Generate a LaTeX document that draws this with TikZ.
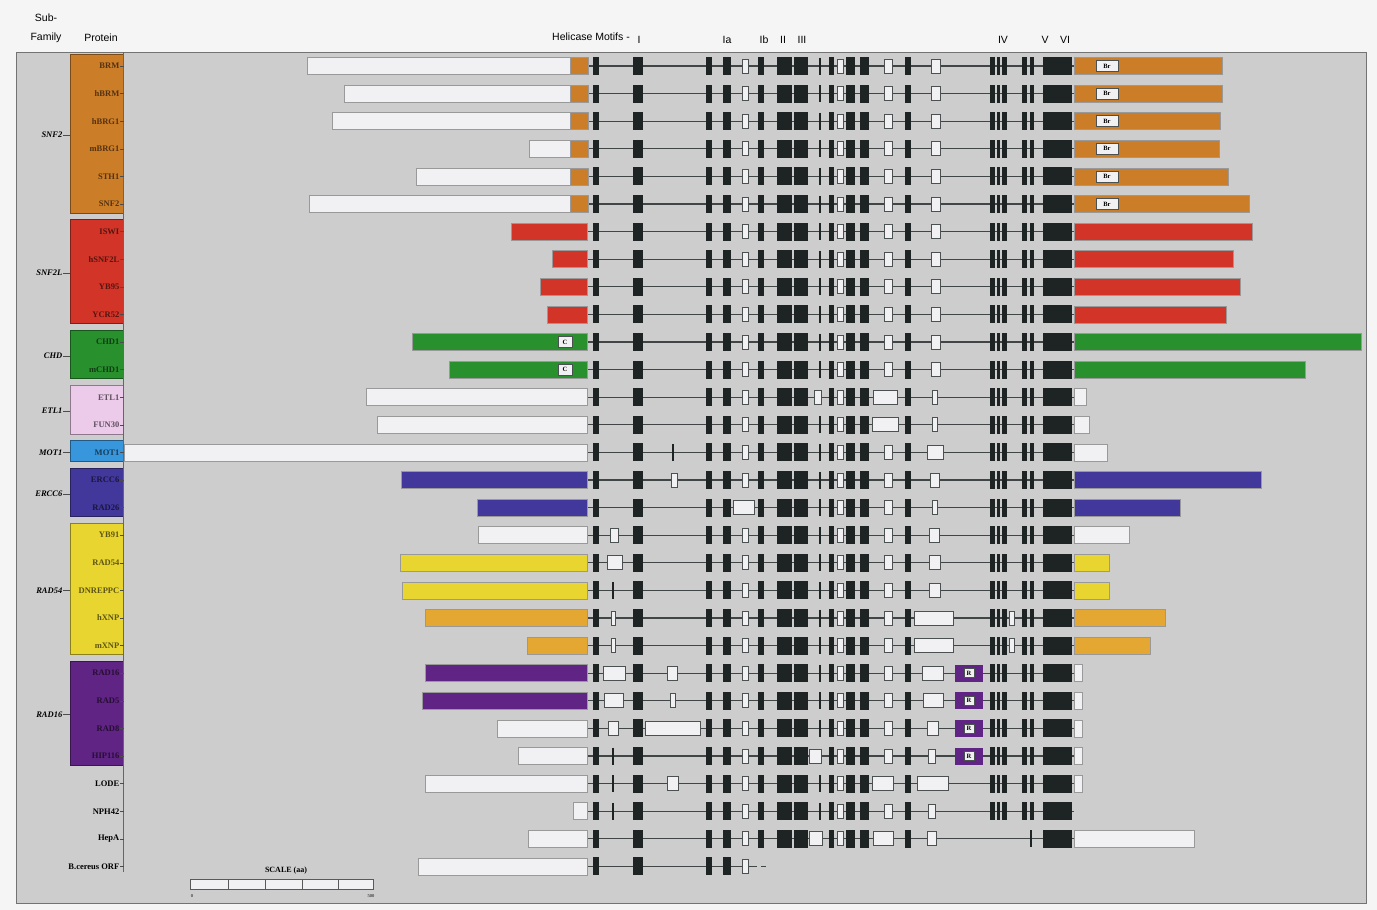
\documentclass[tikz,border=0pt]{standalone}
\usepackage{fontspec}
\setmainfont{Liberation Serif}
\setsansfont{Liberation Sans}
\definecolor{SnfOrange}{RGB}{204,125,40}
\definecolor{SnfRed}{RGB}{210,52,40}
\definecolor{ChdGreen}{RGB}{40,145,45}
\definecolor{EtlPink}{RGB}{236,202,234}
\definecolor{MotBlue}{RGB}{55,150,220}
\definecolor{ErcIndigo}{RGB}{66,56,156}
\definecolor{RadYellow}{RGB}{233,213,48}
\definecolor{RadGold}{RGB}{228,168,50}
\definecolor{RadPurple}{RGB}{96,36,132}
\definecolor{PanelGray}{RGB}{205,205,205}
\definecolor{MotifBlack}{RGB}{30,36,36}
\definecolor{BoxWhite}{RGB}{241,241,243}
\def\rtop{66}
\def\rh{27.6}

\begin{document}
\begin{tikzpicture}[x=1pt, y=-1pt,
    kbox/.style={fill=MotifBlack},
    wbox/.style={fill=BoxWhite, draw=MotifBlack!80, line width=0.8pt},
    nbar/.style={draw=black!40, line width=0.5pt},
    chain/.style={draw=MotifBlack!85, line width=1.3pt},
    ktick/.style={draw=MotifBlack, line width=1.6pt},
    plabel/.style={font=\bfseries\fontsize{8.5}{9}\selectfont, anchor=east, inner sep=0.5pt},
    flabel/.style={font=\bfseries\itshape\fontsize{8.5}{9}\selectfont, anchor=east, inner sep=0.5pt},
    hdr/.style={font=\sffamily\fontsize{10.5}{19}\selectfont, inner sep=0pt},
    tag/.style={fill=BoxWhite, draw=MotifBlack!80, line width=0.6pt, inner sep=0pt,
        font=\bfseries\fontsize{6.5}{7}\selectfont, minimum height=11pt}]

\useasboundingbox (0,0) rectangle (1377,910);
\fill[white!96!black] (0,0) rectangle (1377,910);
\filldraw[fill=PanelGray, draw=black!55, line width=1pt] (16,52) rectangle (1366,903);

% cabecera
\node[hdr, align=center] (subfam) at (46,28) {Sub-\\Family};
\node[hdr] (prothdr) at (101,38) {Protein};
\node[hdr, anchor=east] (helhdr) at (630,37) {Helicase Motifs -};
\foreach \x/\m in {639/I, 727/Ia, 764/Ib, 783/II, 802/III, 1003/IV, 1045/V, 1065/VI}
    \node[hdr] (m\m) at (\x,40) {\m};

% columna de proteinas: desde/hasta/color
\foreach \a/\b/\c in {0/5/SnfOrange, 6/9/SnfRed, 10/11/ChdGreen, 12/13/EtlPink,
    14/14/MotBlue, 15/16/ErcIndigo, 17/21/RadYellow, 22/25/RadPurple}{
    \filldraw[fill=\c, draw=\c!60!black, line width=0.6pt]
        (70,{\rtop+\rh*\a-12}) rectangle (123,{\rtop+\rh*\b+9});
}
\draw[black!60, line width=1pt] (123.5,52) -- (123.5,872);

% subfamilias: nombre/texto/fila central
\foreach \g/\n/\m in {snf/SNF2/2.5, snfl/SNF2L/7.5, chd/CHD/10.5, etl/ETL1/12.5,
    mot/MOT1/14, erc/ERCC6/15.5, rsf/RAD54/19, rsx/RAD16/23.5}{
    \node[flabel] (f\g) at (63,{\rtop+\rh*\m}) {\n};
    \draw[black!70, line width=0.6pt] (f\g.east) -- (70,{\rtop+\rh*\m});
}

% proteinas: fila/nombre/color
\foreach \r/\n/\c in {0/BRM/SnfOrange, 1/hBRM/SnfOrange, 2/hBRG1/SnfOrange,
    3/mBRG1/SnfOrange, 4/STH1/SnfOrange, 5/SNF2/SnfOrange,
    6/ISWI/SnfRed, 7/hSNF2L/SnfRed, 8/YB95/SnfRed, 9/YCR52/SnfRed,
    10/CHD1/ChdGreen, 11/mCHD1/ChdGreen, 12/ETL1/EtlPink, 13/FUN30/EtlPink,
    14/MOT1/MotBlue, 15/ERCC6/ErcIndigo, 16/RAD26/ErcIndigo,
    17/YB91/RadYellow, 18/RAD54/RadYellow, 19/DNREPPC/RadYellow,
    20/hXNP/RadYellow, 21/mXNP/RadYellow,
    22/RAD16/RadPurple, 23/RAD5/RadPurple, 24/RAD8/RadPurple, 25/HIP116/RadPurple,
    26/LODE/black, 27/NPH42/black, 28/HepA/black, 29/B.cereus ORF/black}{
    \node[plabel, text=\c!40!black] (p\r) at (120,{\rtop+\rh*\r}) {\n};
    \draw[black!70, line width=0.6pt] (p\r.east) -- (124,{\rtop+\rh*\r});
}

% lineas de union
\foreach \r in {0,...,28}
    \draw[chain] (587,{\rtop+\rh*\r}) -- (1074,{\rtop+\rh*\r});
\draw[chain] (587,{\rtop+\rh*29}) -- (757,{\rtop+\rh*29});
\draw[chain] (761,{\rtop+\rh*29}) -- (766,{\rtop+\rh*29});

% extremo N: fila/inicio/color
\foreach \r/\a/\c in {0/307/BoxWhite, 1/344/BoxWhite, 2/332/BoxWhite, 3/529/BoxWhite,
    4/416/BoxWhite, 5/309/BoxWhite, 6/511/SnfRed, 7/552/SnfRed, 8/540/SnfRed,
    9/547/SnfRed, 10/412/ChdGreen, 11/449/ChdGreen, 12/366/BoxWhite, 13/377/BoxWhite,
    14/124/BoxWhite, 15/401/ErcIndigo, 16/477/ErcIndigo, 17/478/BoxWhite,
    18/400/RadYellow, 19/402/RadYellow, 20/425/RadGold, 21/527/RadGold,
    22/425/RadPurple, 23/422/RadPurple, 24/497/BoxWhite, 25/518/BoxWhite,
    26/425/BoxWhite, 27/573/BoxWhite, 28/528/BoxWhite, 29/418/BoxWhite}{
    \filldraw[nbar, fill=\c] (\a,{\rtop+\rh*\r-8.5}) rectangle (587,{\rtop+\rh*\r+8.5});
}
\foreach \r in {0,...,5}
    \filldraw[nbar, fill=SnfOrange] (570,{\rtop+\rh*\r-8.5}) rectangle (588,{\rtop+\rh*\r+8.5});
\foreach \r in {10,11}
    \node[tag, minimum width=14pt] (chromo\r) at (565,{\rtop+\rh*\r}) {C};

% extremo C: fila/final/color
\foreach \r/\b/\c in {0/1222/SnfOrange, 1/1222/SnfOrange, 2/1220/SnfOrange,
    3/1219/SnfOrange, 4/1228/SnfOrange, 5/1249/SnfOrange, 6/1252/SnfRed,
    7/1233/SnfRed, 8/1240/SnfRed, 9/1226/SnfRed, 10/1361/ChdGreen, 11/1305/ChdGreen,
    12/1086/BoxWhite, 13/1089/BoxWhite, 14/1107/BoxWhite, 15/1261/ErcIndigo,
    16/1180/ErcIndigo, 17/1129/BoxWhite, 18/1109/RadYellow, 19/1109/RadYellow,
    20/1165/RadGold, 21/1150/RadGold, 22/1082/BoxWhite, 23/1082/BoxWhite,
    24/1082/BoxWhite, 25/1082/BoxWhite, 26/1082/BoxWhite, 28/1194/BoxWhite}{
    \filldraw[nbar, fill=\c] (1074,{\rtop+\rh*\r-8.5}) rectangle (\b,{\rtop+\rh*\r+8.5});
}
\foreach \r in {0,...,5}
    \node[tag, minimum width=22pt] (bromo\r) at (1107,{\rtop+\rh*\r}) {Br};

% motivos comunes
\foreach \r in {0,...,29}{
    \pgfmathsetmacro{\yy}{\rtop+\rh*\r}
    \foreach \a/\b in {593/599, 633/643, 706/712, 723/731}
        \fill[kbox] (\a,\yy-9) rectangle (\b,\yy+9);
}
\foreach \r in {0,...,15,17,18,...,29}
    \filldraw[wbox] (742,{\rtop+\rh*\r-7}) rectangle (748,{\rtop+\rh*\r+7});
\foreach \r in {0,...,28}{
    \pgfmathsetmacro{\yy}{\rtop+\rh*\r}
    \foreach \a/\b in {758/764, 777/792, 794/808, 829/834, 846/855, 860/869, 905/911, 1043/1072}
        \fill[kbox] (\a,\yy-9) rectangle (\b,\yy+9);
    \filldraw[wbox] (837,\yy-7) rectangle (843,\yy+7);
}
\foreach \r in {0,...,11,13,14,...,24,26,27}
    \draw[ktick] (820,{\rtop+\rh*\r-8.5}) -- (820,{\rtop+\rh*\r+8.5});
\foreach \r in {0,...,11,14,15,...,25,27}
    \filldraw[wbox] (884,{\rtop+\rh*\r-7}) rectangle (892,{\rtop+\rh*\r+7});
\foreach \r/\a/\b in {0/931/940, 1/931/940, 2/931/940, 3/931/940, 4/931/940, 5/931/940,
    6/931/940, 7/931/940, 8/931/940, 9/931/940, 10/931/940, 11/931/940, 12/932/937,
    13/932/937, 14/927/943, 15/930/939, 16/932/937, 17/929/939, 18/929/940,
    19/929/940, 20/914/953, 21/914/953, 22/922/943, 23/923/943, 24/927/938,
    25/928/935, 26/917/948, 27/928/935, 28/927/936}
    \filldraw[wbox] (\a,{\rtop+\rh*\r-7}) rectangle (\b,{\rtop+\rh*\r+7});
\foreach \r in {0,...,27}{
    \pgfmathsetmacro{\yy}{\rtop+\rh*\r}
    \foreach \a/\b in {990/995, 997/1000, 1002/1007, 1022/1027, 1030/1034}
        \fill[kbox] (\a,\yy-9) rectangle (\b,\yy+9);
}

% variantes
\foreach \r/\a/\b in {12/873/897, 13/872/898, 12/814/821, 15/671/677, 16/733/754,
    17/610/618, 18/607/622, 20/611/615, 21/611/615, 20/1009/1014, 21/1009/1014,
    22/603/625, 22/667/677, 23/604/623, 23/670/675, 24/608/618, 24/645/700,
    25/809/821, 26/667/678, 26/872/893, 28/809/822, 28/873/893}
    \filldraw[wbox] (\a,{\rtop+\rh*\r-7}) rectangle (\b,{\rtop+\rh*\r+7});
\foreach \r/\a in {14/673, 19/613, 25/613, 26/613, 27/613, 28/1031}
    \draw[ktick] (\a,{\rtop+\rh*\r-8.5}) -- (\a,{\rtop+\rh*\r+8.5});
\foreach \r in {22,...,25}{
    \fill[RadPurple] (955,{\rtop+\rh*\r-8.5}) rectangle (983,{\rtop+\rh*\r+8.5});
    \node[tag, minimum width=10pt, minimum height=9pt] (rtag\r) at (969,{\rtop+\rh*\r}) {R};
}

% escala
\node[font=\bfseries\fontsize{8}{9}\selectfont, inner sep=0pt] (scl) at (286,871) {SCALE (aa)};
\filldraw[fill=BoxWhite, draw=black!65, line width=0.8pt] (190,879) rectangle (373,889);
\foreach \x in {228,265,302,338}
    \draw[black!65, line width=0.8pt] (\x,879) -- (\x,889);
\node[font=\fontsize{4.5}{5}\selectfont, inner sep=0pt] (scl0) at (192,896) {0};
\node[font=\fontsize{4.5}{5}\selectfont, inner sep=0pt] (scl5) at (371,896) {500};

\end{tikzpicture}
\end{document}
